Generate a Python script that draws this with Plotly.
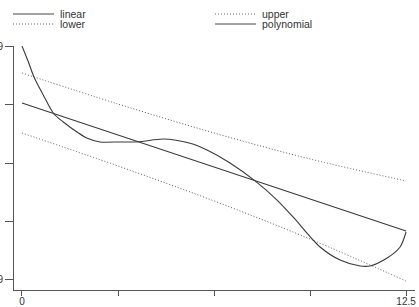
import plotly.graph_objects as go

# ---- data ----
lin_x = [0, 12.5]
lin_y = [4.62, -5.23]

band_x = [0, 3.125, 6.25, 9.375, 12.5]
upper_y = [6.92, 4.54, 2.31, 0.31, -1.38]
lower_y = [2.31, -0.23, -2.92, -5.85, -9.08]

poly_x = [0, 0.205, 0.39, 0.693, 1.042, 1.344, 1.79, 2.106, 2.539, 3.19, 3.841,
          4.59, 5.469, 6.022, 6.771, 7.585, 8.301, 8.822, 9.701, 10.352, 11.003,
          11.328, 11.882, 12.305, 12.5]
poly_y = [9.0, 7.79, 6.62, 5.23, 3.77, 3.15, 2.38, 1.92, 1.62, 1.62, 1.64,
          1.85, 1.52, 1.0, 0.0, -1.38, -2.85, -4.15, -6.46, -7.46, -7.92,
          -7.92, -7.31, -6.46, -5.31]

x_tickvals = [0, 3.125, 6.25, 9.375, 12.5]
x_ticktext = ["0", "", "", "", "12.5"]
y_tickvals = [-9, -4.5, 0, 4.5, 9]
y_ticktext = ["-9", "", "", "", "9"]

legend_names = ["linear", "upper", "lower", "polynomial"]
legend_dash = ["solid", "dot", "dot", "solid"]

LINE = "#3a3a3a"
DOT = "1px,2px"
FONT = "Liberation Sans, Arial, sans-serif"

fig = go.Figure()
fig.add_trace(go.Scatter(x=lin_x, y=lin_y, mode="lines",
                         line=dict(color=LINE, width=1.1), name="linear"))
fig.add_trace(go.Scatter(x=band_x, y=upper_y, mode="lines",
                         line=dict(color="#555", width=1, dash=DOT, shape="spline"), name="upper"))
fig.add_trace(go.Scatter(x=band_x, y=lower_y, mode="lines",
                         line=dict(color="#555", width=1, dash=DOT, shape="spline"), name="lower"))
fig.add_trace(go.Scatter(x=poly_x, y=poly_y, mode="lines",
                         line=dict(color=LINE, width=1.1, shape="spline", smoothing=0.8),
                         name="polynomial"))

W, H = 419, 307
ml, mr, mt, mb = 14, 4, 46, 17
pw, ph = W - ml - mr, H - mt - mb


def px_to_paper(px, py):
    return (px - ml) / pw, (H - mb - py) / ph


# manual legend (2 columns)
legend_pos = [(13, 14), (215, 14), (13, 24), (215, 24)]
shapes = []
annotations = []
for name, dash, (lx, ly) in zip(legend_names, legend_dash, legend_pos):
    x0, y0 = px_to_paper(lx, ly)
    x1, _ = px_to_paper(lx + 41, ly)
    shapes.append(dict(type="line", xref="paper", yref="paper", x0=x0, x1=x1, y0=y0, y1=y0,
                       line=dict(color="#444" if dash == "solid" else "#666", width=1,
                                 dash="solid" if dash == "solid" else DOT)))
    tx, _ = px_to_paper(lx + 45, ly)
    annotations.append(dict(xref="paper", yref="paper", x=tx, y=y0, text=name, showarrow=False,
                            xanchor="left", yanchor="middle",
                            font=dict(family=FONT, size=10.5, color="#333")))

fig.update_layout(
    width=W, height=H,
    margin=dict(l=ml, r=mr, t=mt, b=mb),
    paper_bgcolor="white", plot_bgcolor="white",
    showlegend=False,
    shapes=shapes, annotations=annotations,
    font=dict(family=FONT, size=10, color="#333"),
    xaxis=dict(range=[-0.26, 12.79], showgrid=False, zeroline=False, showline=True,
               linecolor="#555", linewidth=1, ticks="outside", ticklen=5, tickcolor="#555",
               tickvals=x_tickvals, ticktext=x_ticktext, tickfont=dict(size=10),
               ticklabelstandoff=-3, automargin=False),
    yaxis=dict(range=[-9.77, 9], showgrid=False, zeroline=False, showline=True,
               linecolor="#555", linewidth=1, ticks="outside", ticklen=8, tickcolor="#555",
               tickvals=y_tickvals, ticktext=y_ticktext, tickfont=dict(size=10),
               automargin=False),
)

fig.write_html("out.html")
